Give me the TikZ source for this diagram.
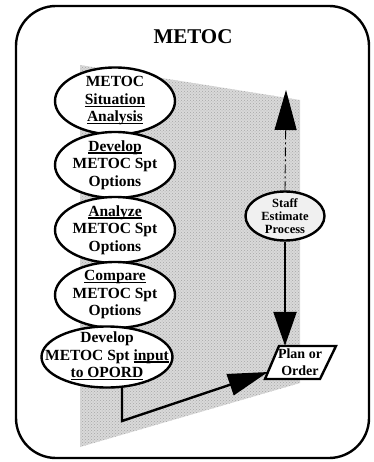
\documentclass[tikz,border=0pt]{standalone}
\usepackage{fontspec}
\setmainfont{Liberation Serif}
\usetikzlibrary{shapes.geometric,arrows.meta,patterns}
\newcommand\ulin[1]{\setbox0\hbox{#1}\rlap{\rule[-2.4pt]{\wd0}{1.3pt}}\box0}
\begin{document}
\begin{tikzpicture}[x=1pt,y=-1pt,
  thick line/.style={line width=2.4pt},
  ebox/.style={ellipse,draw,thick line,fill=white,inner sep=0pt,minimum width=120pt,minimum height=66pt},
  etext/.style={align=center,font=\fontsize{15.5}{17.5}\selectfont\bfseries,inner sep=0pt},
  stext/.style={align=center,font=\fontsize{12.5}{13}\selectfont\bfseries,inner sep=0pt},
  bigtip/.style={-{Triangle[length=40pt,width=22pt]}},
  midtip/.style={-{Triangle[length=34pt,width=23pt]}}
]
\useasboundingbox (0,0) rectangle (373,462);
% outer frame
\draw[thick line,rounded corners=40pt] (16,6) rectangle (369,458);
\node[font=\fontsize{21}{25}\selectfont\bfseries] (title) at (193,37) {METOC};
% shaded region
\fill[gray!30] (80,65) -- (300,100) -- (300,383) -- (80,447) -- cycle;
\path[pattern=crosshatch dots,pattern color=gray!70] (80,65) -- (300,100) -- (300,383) -- (80,447) -- cycle;
% left ellipses
\node[ebox,minimum height=67pt,label={[etext]center:{METOC\\\ulin{Situation}\\\ulin{Analysis}}}] (n1) at (115,101) {};
\node[ebox,label={[etext]center:{\ulin{Develop}\\METOC Spt\\Options}}] (n2) at (115,165) {};
\node[ebox,label={[etext]center:{\ulin{Analyze}\\METOC Spt\\Options}}] (n3) at (115,230) {};
\node[ebox,label={[etext]center:{\ulin{Compare}\\METOC Spt\\Options}}] (n4) at (115,295) {};
\node[ebox,minimum width=131pt,minimum height=61pt,label={[etext,yshift=1pt]center:{Develop\\METOC Spt \ulin{input}\\\ulin{to\ OPORD}}}] (n5) at (107,357) {};
% staff estimate
\node[ellipse,draw,thick line,fill=gray!12,inner sep=0pt,minimum width=79pt,minimum height=49pt,label={[stext]center:{Staff\\Estimate\\Process}}] (staff) at (285,216) {};
% plan or order
\draw[thick line,fill=white] (279,346) -- (336,346) -- (320,379) -- (265,379) -- cycle;
\node[font=\fontsize{14}{17}\selectfont\bfseries,align=center,inner sep=0pt,minimum width=56pt,minimum height=33pt] (plan) at (300,362.5) {Plan or\\Order};
\coordinate (top) at (286,90);
\coordinate (planin) at (268,372);
\coordinate (o5) at (122,388);
\coordinate (bend) at (122,421);
% connectors
\draw[line width=0.9pt,dash pattern=on 9pt off 3pt on 2pt off 3pt,bigtip] (staff.north) -- (top);
\draw[thick line,midtip] (staff.south) -- (staff.south |- plan.north);
\draw[thick line,bigtip] (o5) -- (bend) -- (planin);
\end{tikzpicture}
\end{document}
